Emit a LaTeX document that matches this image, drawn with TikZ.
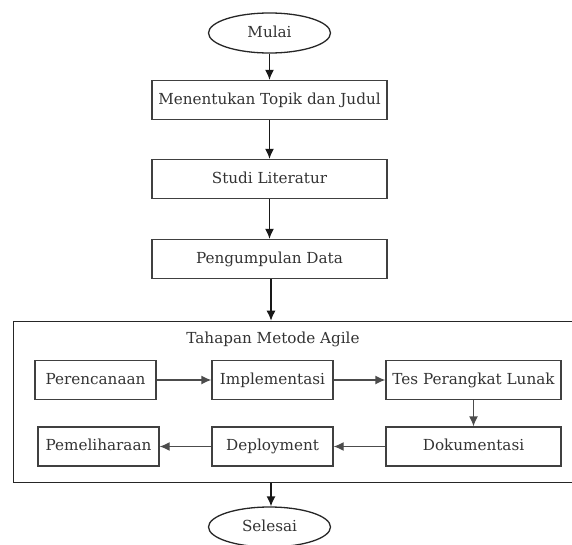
\documentclass[tikz,border=0pt]{standalone}
\usepackage{fontspec}
\setmainfont{DejaVu Serif}
\usetikzlibrary{shapes.geometric,arrows.meta}
\begin{document}
\begin{tikzpicture}[x=1pt,y=-1pt,>={Latex[length=10pt,width=9pt]},
  proses/.style={draw=black!75, line width=1.3pt, text=black!80, minimum height=39pt, inner sep=0pt, text height=11pt, text depth=3pt, font=\fontsize{15.2}{17}\selectfont},
  terminal/.style={ellipse, draw=black!85, line width=1.3pt, text=black!80, minimum width=122pt, minimum height=40pt, inner sep=0pt, text height=11pt, text depth=3pt, font=\fontsize{15.2}{17}\selectfont},
  alur/.style={->, line width=1.3pt, black!90}]
  \useasboundingbox (0,0) rectangle (572,544);

  % Alur utama
  \node[terminal] (Mulai) at (269.5,33) {Mulai};
  \node[proses, minimum width=235pt] (Topik) at (269.5,100) {Menentukan Topik dan Judul};
  \node[proses, minimum width=235pt] (Studi) at (269.5,179) {Studi Literatur};
  \node[proses, minimum width=235pt] (Data) at (269.5,259) {Pengumpulan Data};

  % Tahapan agile
  \node[draw=black!85, line width=1.3pt, minimum width=567pt, minimum height=161pt, anchor=north west, inner sep=0pt] (Agile) at (12.7,320.7) {};
  \node[text=black!80, font=\fontsize{15.2}{17}\selectfont] (Judul) at (273,339) {Tahapan Metode Agile};
  \node[proses, minimum width=121pt] (Rencana) at (95.5,380) {Perencanaan};
  \node[proses, minimum width=121pt] (Impl) at (272.5,380) {Implementasi};
  \node[proses, minimum width=175pt] (Tes) at (473.5,380) {Tes Perangkat Lunak};
  \node[proses, minimum width=175pt] (Dok) at (473.5,446.5) {Dokumentasi};
  \node[proses, minimum width=121pt] (Deploy) at (272.5,446.5) {Deployment};
  \node[proses, minimum width=121pt] (Pelihara) at (98.5,446.5) {Pemeliharaan};

  \node[terminal] (Selesai) at (269.5,527) {Selesai};

  % Panah
  \draw[alur] (Mulai) -- (Topik);
  \draw[alur] (Topik) -- (Studi);
  \draw[alur] (Studi) -- (Data);
  \draw[alur] ([xshift=1.5pt]Data.south) -- ([xshift=1.5pt]Data.south |- Agile.north);
  \draw[alur, black!70] (Rencana) -- (Impl);
  \draw[alur, black!70] (Impl) -- (Tes);
  \draw[alur, black!70] (Tes) -- (Dok);
  \draw[alur, black!70] (Dok) -- (Deploy);
  \draw[alur, black!70] (Deploy) -- (Pelihara);
  \draw[alur] ([xshift=1.5pt]Selesai.north |- Agile.south) -- ([xshift=1.5pt]Selesai.north);
\end{tikzpicture}
\end{document}
